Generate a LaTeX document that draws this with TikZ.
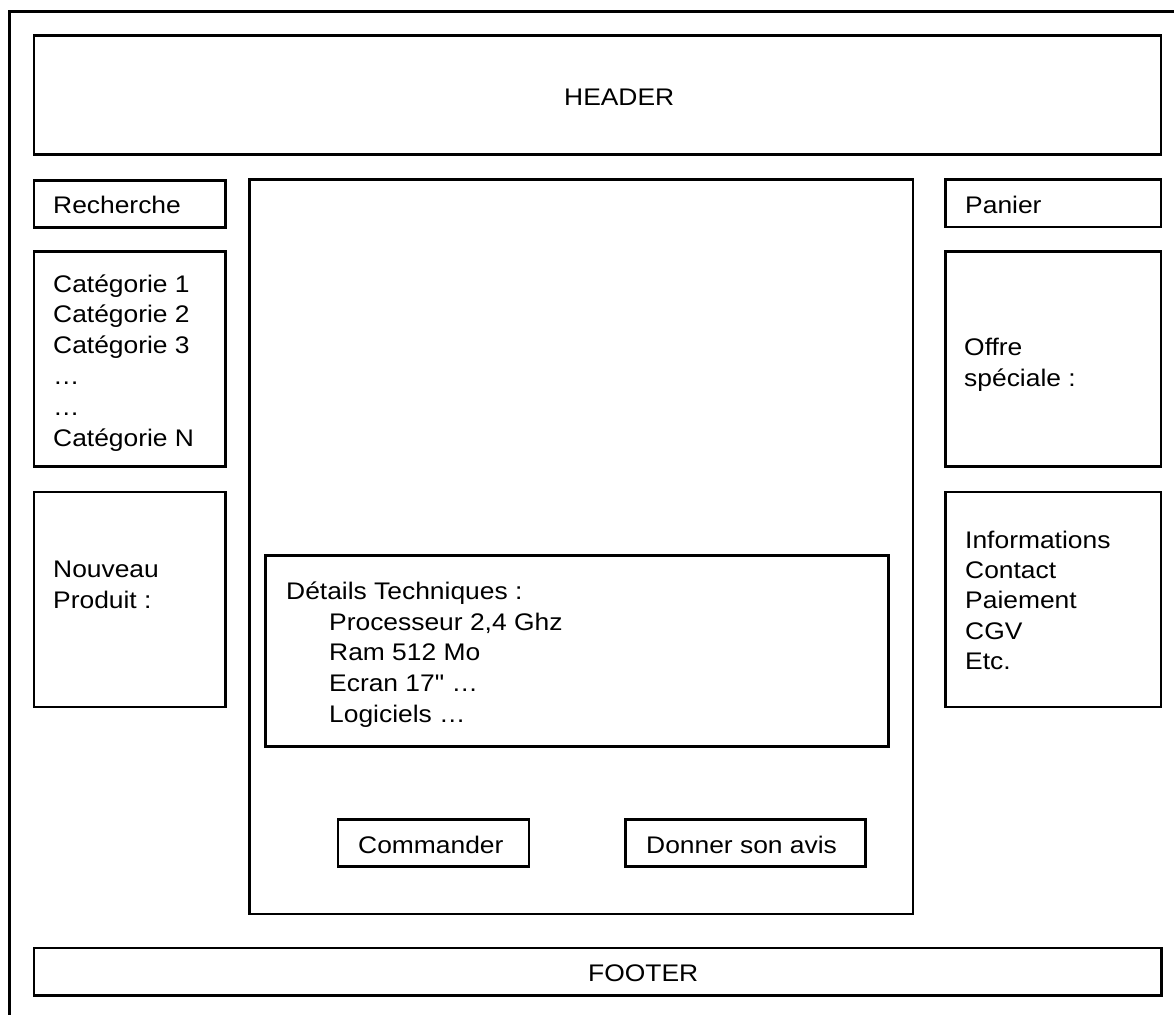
\documentclass[tikz,border=0pt]{standalone}
\usepackage{fontspec}
\newfontfamily\wirefont{Liberation Sans}[FakeStretch=1.1]
\usetikzlibrary{positioning}

\tikzset{
  box/.style={line width=2.8pt},
  lbl/.style={font=\wirefont\fontsize{24}{31}\selectfont, inner sep=0pt, anchor=base west}
}

\begin{document}
\begin{tikzpicture}[x=1pt,y=-1pt]
  \useasboundingbox (0,0) rectangle (1174,1014);
  % page frame, cut at the right and at the bottom
  \draw[box] (9.5,1030) |- (1190,11.3);

  % blocks of the layout
  \foreach \xa/\ya/\xb/\yb in {34/35.3/1161/154.7, 34/180.3/225.3/227.3,
      34/251.3/225.3/466.7, 34/492/225.3/707, 249.7/179.5/913/914,
      945.5/179.5/1161/227, 945.5/251.3/1161/466.7, 945.5/492/1161/707,
      265.5/555.7/888.7/746.3, 338/819.7/529/866.3, 625.3/819.7/865.7/866.3,
      34/948/1161.3/995.3}
    \draw[box] (\xa,\ya) rectangle (\xb,\yb);

  \node[lbl] (header) at (564,106) {HEADER};
  \node[lbl] (footer) at (588,981) {FOOTER};

  \node[lbl] (search) at (53,213.5) {Recherche};
  \node[lbl] (cart) at (965,213.5) {Panier};

  \foreach \t [count=\i] in {Catégorie 1,Catégorie 2,Catégorie 3,…,…,Catégorie N}
    \node[lbl] (cat\i) at (53,{292+30.8*(\i-1)}) {\t};

  \node[lbl] (new1) at (53,577.7) {Nouveau};
  \node[lbl] (new2) at (53,608.4) {Produit :};

  \node[lbl] (offer1) at (964,355) {Offre};
  \node[lbl] (offer2) at (964,386) {spéciale :};

  \foreach \t [count=\i] in {Informations,Contact,Paiement,CGV,Etc.}
    \node[lbl] (info\i) at (965,{548.3+30.25*(\i-1)}) {\t};

  \node[lbl] (specs) at (286,599) {Détails Techniques :};
  \foreach \t [count=\i] in {{Processeur 2,4 Ghz},Ram 512 Mo,Ecran 17" …,Logiciels …}
    \node[lbl] (spec\i) at (329,{630+30.8*(\i-1)}) {\t};

  \node[lbl] (order) at (358,853.3) {Commander};
  \node[lbl] (review) at (646,853.3) {Donner son avis};
\end{tikzpicture}
\end{document}
